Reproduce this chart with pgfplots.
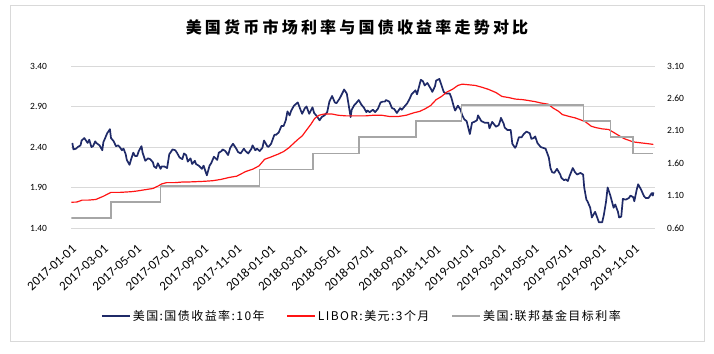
\documentclass[border=0pt]{standalone}
\usepackage{pgfplots}
\pgfplotsset{compat=1.18}
\usepackage{fontspec}
\setmainfont{Carlito}
\newfontfamily\cjkleg[LetterSpace=12]{Noto Sans CJK SC}
\newfontfamily\cjktitle[LetterSpace=20]{Noto Sans CJK SC}
\definecolor{navy}{RGB}{31,42,104}
\definecolor{gridc}{RGB}{217,217,217}
\definecolor{stepgray}{RGB}{166,166,166}
\definecolor{libred}{RGB}{255,20,20}

\pgfplotstableread{
x y
2 2.45
4 2.37
9 2.38
12 2.40
17 2.42
19 2.48
24 2.51
26 2.49
30 2.45
33 2.49
37 2.40
40 2.41
44 2.47
46 2.45
52 2.42
57 2.36
59 2.46
61 2.49
66 2.57
71 2.62
73 2.51
78 2.47
82 2.41
86 2.42
89 2.40
93 2.36
96 2.38
100 2.31
102 2.24
107 2.18
110 2.25
114 2.33
117 2.29
121 2.29
124 2.35
129 2.41
131 2.33
136 2.23
141 2.26
145 2.25
150 2.21
152 2.16
156 2.14
159 2.20
164 2.13
166 2.16
171 2.16
176 2.14
180 2.31
186 2.37
191 2.36
194 2.33
199 2.27
204 2.25
207 2.32
211 2.30
214 2.22
219 2.26
222 2.19
227 2.23
229 2.19
234 2.17
240 2.13
243 2.17
249 2.05
254 2.17
257 2.20
262 2.28
268 2.24
271 2.33
276 2.35
278 2.37
283 2.35
288 2.30
292 2.39
297 2.44
299 2.42
303 2.38
306 2.34
311 2.32
317 2.38
320 2.35
325 2.32
331 2.38
333 2.42
338 2.36
341 2.38
346 2.35
351 2.39
354 2.48
360 2.41
362 2.40
367 2.44
373 2.55
376 2.55
381 2.58
386 2.66
390 2.66
394 2.73
397 2.84
401 2.79
404 2.85
409 2.91
416 2.95
421 2.86
424 2.81
429 2.88
432 2.90
437 2.81
443 2.89
446 2.82
451 2.78
456 2.73
460 2.77
465 2.79
470 2.83
474 2.96
479 3.03
484 2.95
487 2.94
493 3.00
499 3.08
501 3.11
506 3.06
513 2.77
515 2.86
520 2.92
523 2.94
528 2.98
533 2.92
537 2.89
542 2.83
544 2.85
548 2.83
554 2.86
558 2.83
563 2.87
568 2.95
572 2.96
576 2.96
578 2.98
584 2.96
589 2.88
593 2.87
598 2.82
604 2.88
607 2.86
612 2.90
617 2.94
621 2.99
625 3.05
632 3.10
635 3.05
640 3.18
642 3.23
646 3.21
649 3.16
654 3.19
661 3.11
663 3.08
668 3.15
670 3.22
676 3.24
681 3.14
684 3.08
688 3.06
695 3.06
698 3.01
702 2.91
705 2.85
710 2.91
715 2.86
718 2.79
722 2.74
726 2.72
732 2.56
736 2.70
740 2.71
745 2.73
747 2.79
753 2.72
759 2.70
761 2.70
766 2.70
768 2.63
773 2.71
780 2.65
785 2.67
788 2.73
789 2.76
794 2.69
796 2.64
801 2.61
807 2.61
810 2.44
815 2.39
817 2.41
822 2.52
827 2.52
831 2.56
836 2.59
842 2.57
845 2.50
849 2.51
852 2.53
856 2.45
862 2.40
866 2.39
871 2.38
877 2.27
880 2.14
883 2.09
887 2.08
892 2.13
898 2.06
900 2.02
905 1.99
908 2.00
912 1.98
915 2.04
921 2.14
925 2.09
929 2.06
935 2.08
940 2.06
942 1.90
946 1.75
948 1.73
953 1.65
956 1.53
962 1.60
968 1.49
969 1.47
975 1.47
978 1.56
982 1.72
985 1.90
990 1.80
996 1.65
999 1.69
1004 1.60
1006 1.53
1010 1.54
1013 1.76
1018 1.75
1024 1.77
1027 1.80
1032 1.78
1034 1.73
1038 1.86
1041 1.94
1046 1.88
1052 1.79
1055 1.77
1060 1.77
1066 1.83
1068 1.80
1069 1.84
}\treasury

\pgfplotstableread{
x y
0 0.998
10 1.00
20 1.03
31 1.03
45 1.04
59 1.09
66 1.12
73 1.15
80 1.15
90 1.15
110 1.16
120 1.17
135 1.19
150 1.21
160 1.25
166 1.28
175 1.30
190 1.30
205 1.31
215 1.31
243 1.32
260 1.33
275 1.35
290 1.38
304 1.40
320 1.47
334 1.51
345 1.56
355 1.66
365 1.69
380 1.74
390 1.78
400 1.84
410 1.92
418 1.98
424 2.02
432 2.11
440 2.20
447 2.29
455 2.34
465 2.36
478 2.36
490 2.34
505 2.33
520 2.33
530 2.33
540 2.33
555 2.34
570 2.34
585 2.32
600 2.32
615 2.34
630 2.38
640 2.40
650 2.44
660 2.49
670 2.58
680 2.63
690 2.70
700 2.74
710 2.80
718 2.82
730 2.81
742 2.80
755 2.77
766 2.74
780 2.69
791 2.63
805 2.61
815 2.59
830 2.58
852 2.55
862 2.53
876 2.51
885 2.45
895 2.40
902 2.35
915 2.32
925 2.30
935 2.27
944 2.24
955 2.17
963 2.15
975 2.13
987 2.12
997 2.07
1005 2.03
1015 1.98
1025 1.95
1031 1.93
1040 1.92
1050 1.91
1060 1.90
1069 1.89
}\libor

\pgfplotstableread{
x y
0 0.75
73 1.00
164 1.25
346 1.50
444 1.75
528 2.00
633 2.25
717 2.50
941 2.25
990 2.00
1032 1.75
1069 1.75
}\fedfunds

\begin{document}
\begin{tikzpicture}[x=1pt,y=1pt]
\useasboundingbox (0,0) rectangle (714,353);
\draw[gridc, line width=1pt] (10,11) rectangle (704,347);
\node[font=\cjktitle\bfseries\fontsize{16}{16}\selectfont] at (357,326) {美国货币市场利率与国债收益率走势对比};

\begin{axis}[
  at={(71.26pt,125pt)}, anchor=south west, scale only axis,
  width=583.74pt, height=162pt,
  xmin=0, xmax=1072, ymin=1.4, ymax=3.4,
  ytick={1.4,1.9,2.4,2.9,3.4},
  ymajorgrids, grid style={gridc, line width=0.8pt},
  axis line style={draw=none}, major tick style={draw=none},
  xtick={0,59,120,181,243,304,365,424,485,546,608,669,730,789,850,911,973,1034},
  xticklabels={2017-01-01,2017-03-01,2017-05-01,2017-07-01,2017-09-01,2017-11-01,2018-01-01,2018-03-01,2018-05-01,2018-07-01,2018-09-01,2018-11-01,2019-01-01,2019-03-01,2019-05-01,2019-07-01,2019-09-01,2019-11-01},
  xticklabel style={font=\fontsize{13}{13}\selectfont, inner sep=0pt, anchor=north east, yshift=-16pt, rotate=42},
  yticklabel style={font=\fontsize{9.5}{10}\selectfont, anchor=east, inner sep=0pt, xshift=-24pt},
  /pgf/number format/.cd, fixed, fixed zerofill, precision=2, assume math mode=true,
]
\addplot[navy, line width=1.7pt, line join=round] table[x=x,y=y] {\treasury};
\end{axis}

\begin{axis}[
  at={(71.26pt,125pt)}, anchor=south west, scale only axis,
  width=583.74pt, height=162pt,
  xmin=0, xmax=1072, ymin=0.6, ymax=3.1,
  ytick={0.6,1.1,1.6,2.1,2.6,3.1},
  axis y line*=right, axis x line=none,
  axis line style={draw=none}, major tick style={draw=none},
  yticklabel style={font=\fontsize{9.5}{10}\selectfont, anchor=west, inner sep=0pt, xshift=12pt},
  legend style={at={(0.498,-0.543)}, anchor=center, draw=none, fill=none,
    legend columns=3, font=\cjkleg\fontsize{12}{12}\selectfont,
    /tikz/every even column/.append style={column sep=20pt}},
  legend image code/.code={\draw[#1] (0pt,0pt) -- (28pt,0pt);},
  /pgf/number format/.cd, fixed, fixed zerofill, precision=2, assume math mode=true,
]
\addlegendimage{draw=navy, line width=1.7pt}
\addlegendentry{美国:国债收益率:10年}
\addlegendimage{draw=libred, line width=1.2pt}
\addlegendentry{LIBOR:美元:3个月}
\addlegendimage{draw=stepgray, line width=1.6pt}
\addlegendentry{美国:联邦基金目标利率}
\addplot[libred, line width=1.2pt, forget plot] table[x=x,y=y] {\libor};
\addplot[stepgray, line width=1.6pt, const plot, forget plot] table[x=x,y=y] {\fedfunds};
\end{axis}
\end{tikzpicture}
\end{document}
